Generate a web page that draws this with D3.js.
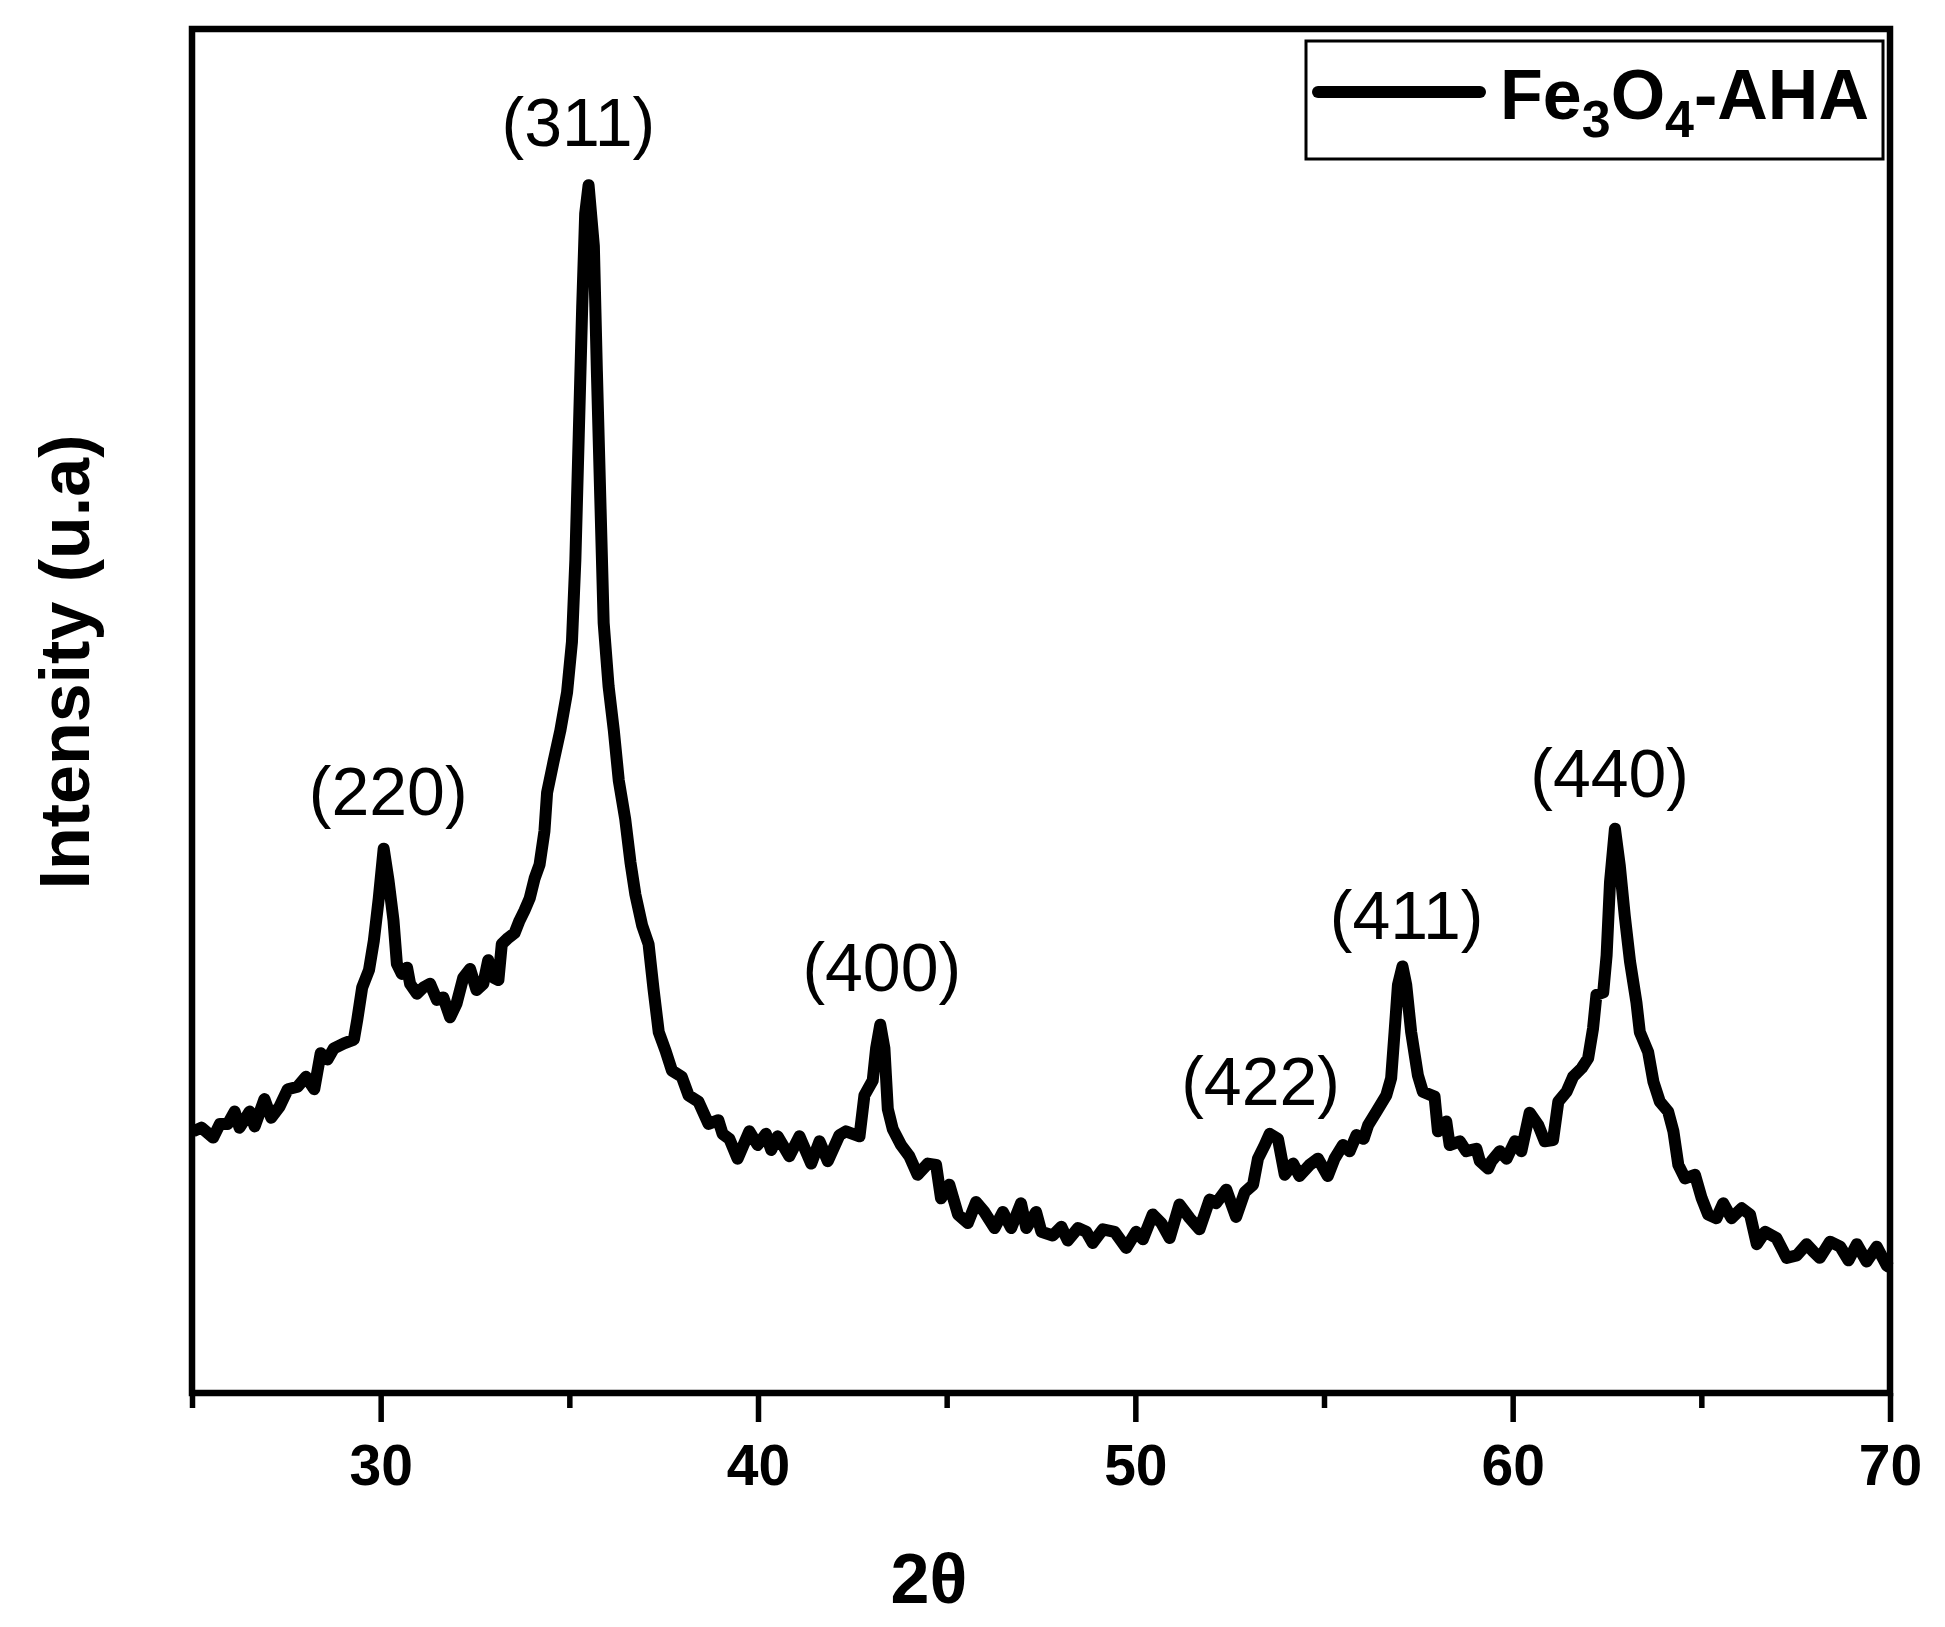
<!DOCTYPE html>
<html>
<head>
<meta charset="utf-8">
<script src="https://cdn.jsdelivr.net/npm/d3@7"></script>
<style>
  body { margin: 0; background: #fff; }
  svg { display: block; }
  text { font-family: "Liberation Sans", Arial, Helvetica, sans-serif; fill: #000; }
</style>
</head>
<body>
<div id="chart"></div>
<script>

// XRD pattern (2θ in degrees, intensity in arbitrary units)
var twoTheta = [
  25.03, 25.25, 25.56, 25.74, 25.95, 26.13, 26.26, 26.53, 26.66, 26.92,
  27.10, 27.32, 27.54, 27.80, 28.02, 28.24, 28.41, 28.59, 28.76, 29.03,
  29.29, 29.38, 29.51, 29.69, 29.82, 29.95, 30.08, 30.21, 30.34, 30.43,
  30.56, 30.70, 30.78, 30.96, 31.13, 31.31, 31.49, 31.66, 31.84, 32.01,
  32.19, 32.37, 32.54, 32.72, 32.85, 32.99, 33.12, 33.21, 33.38, 33.55,
  33.68, 33.81, 33.95, 34.08, 34.21, 34.34, 34.41, 34.58, 34.76, 34.94,
  35.07, 35.16, 35.25, 35.34, 35.42, 35.51, 35.65, 35.73, 35.82, 35.91,
  36.04, 36.18, 36.31, 36.48, 36.62, 36.75, 36.93, 37.10, 37.23, 37.37,
  37.55, 37.72, 37.98, 38.16, 38.42, 38.69, 38.95, 39.06, 39.24, 39.46,
  39.77, 39.99, 40.21, 40.35, 40.52, 40.83, 41.10, 41.41, 41.63, 41.85,
  42.16, 42.33, 42.69, 42.82, 43.04, 43.13, 43.24, 43.35, 43.44, 43.57,
  43.79, 44.01, 44.23, 44.50, 44.72, 44.85, 45.07, 45.30, 45.56, 45.78,
  46.00, 46.27, 46.49, 46.71, 46.97, 47.11, 47.37, 47.51, 47.81, 48.04,
  48.21, 48.48, 48.70, 48.87, 49.14, 49.45, 49.76, 50.02, 50.20, 50.46,
  50.69, 50.91, 51.17, 51.44, 51.70, 51.97, 52.14, 52.41, 52.67, 52.90,
  53.12, 53.25, 53.43, 53.56, 53.78, 53.96, 54.18, 54.35, 54.62, 54.84,
  55.10, 55.28, 55.50, 55.68, 55.86, 56.05, 56.17, 56.39, 56.65, 56.78,
  56.87, 56.96, 57.08, 57.18, 57.31, 57.49, 57.62, 57.93, 58.02, 58.24,
  58.33, 58.60, 58.77, 59.04, 59.13, 59.35, 59.44, 59.66, 59.84, 60.06,
  60.23, 60.45, 60.68, 60.85, 61.07, 61.21, 61.43, 61.60, 61.83, 62.00,
  62.13, 62.22, 62.40, 62.49, 62.58, 62.71, 62.84, 62.97, 63.11, 63.28,
  63.37, 63.59, 63.73, 63.90, 64.12, 64.26, 64.39, 64.57, 64.83, 65.01,
  65.18, 65.40, 65.58, 65.80, 66.07, 66.29, 66.47, 66.69, 66.99, 67.26,
  67.53, 67.79, 67.97, 68.14, 68.41, 68.68, 68.90, 69.12, 69.38, 69.65,
  69.91, 70.00
];

var intensity = [
  211, 214, 206, 217, 217, 227, 214, 227, 215, 237,
  222, 231, 245, 247, 255, 245, 274, 269, 278, 282,
  285, 301, 327, 341, 365, 399, 439, 413, 381, 346,
  338, 343, 330, 322, 327, 330, 317, 319, 303, 314,
  335, 342, 325, 330, 349, 335, 333, 362, 367, 371,
  381, 389, 399, 415, 426, 453, 484, 509, 534, 565,
  606, 672, 773, 875, 951, 974, 925, 824, 722, 621,
  570, 534, 494, 463, 428, 402, 377, 362, 326, 291,
  276, 260, 255, 240, 235, 217, 220, 209, 205, 189,
  211, 200, 209, 196, 207, 191, 207, 185, 203, 187,
  208, 211, 207, 240, 252, 278, 297, 278, 229, 213,
  200, 191, 176, 185, 184, 157, 168, 144, 137, 154,
  146, 133, 146, 133, 153, 133, 146, 130, 127, 134,
  123, 133, 130, 121, 132, 130, 117, 130, 124, 144,
  137, 125, 152, 141, 132, 156, 153, 164, 142, 162,
  168, 189, 200, 209, 205, 176, 185, 175, 184, 189,
  175, 189, 200, 195, 208, 205, 216, 227, 240, 254,
  291, 329, 344, 329, 291, 256, 243, 239, 211, 219,
  200, 203, 195, 197, 187, 181, 187, 195, 189, 203,
  195, 226, 216, 203, 204, 235, 243, 255, 262, 270,
  294, 321, 323, 353, 412, 455, 425, 385, 348, 315,
  291, 275, 251, 235, 227, 211, 184, 173, 176, 157,
  144, 141, 153, 141, 149, 144, 120, 130, 125, 109,
  111, 120, 114, 109, 122, 118, 107, 120, 106, 118,
  103, 101
];

// Miller index annotations and where their text sits (2θ, intensity)
var peakLabels = ['(220)', '(311)', '(400)', '(422)', '(411)', '(440)'];
var peakLabelTheta = [30.20, 35.24, 43.28, 53.32, 57.19, 62.57];
var peakLabelLevel = [486, 1025, 344, 252, 386, 500];

var majorTicks = [30, 40, 50, 60, 70];
var minorTicks = [25, 35, 45, 55, 65];

var seriesName = 'Fe3O4-AHA';

var chartWidth = 1945;
var chartHeight = 1627;
var plotLeft = 192, plotRight = 1890, plotTop = 29, plotBottom = 1393;

var svg = d3.select('#chart')
  .append('svg')
  .attr('width', chartWidth)
  .attr('height', chartHeight);

svg.append('rect')
  .attr('width', chartWidth)
  .attr('height', chartHeight)
  .attr('fill', '#fff');

var xScale = d3.scaleLinear()
  .domain([25, 70])
  .range([plotLeft, plotRight]);

var yScale = d3.scaleLinear()
  .domain([0, 1100])
  .range([plotBottom, plotTop]);

var points = twoTheta.map(function(t, i) {
  return [t, intensity[i]];
});

// major ticks with labels
var xAxis = svg.append('g')
  .attr('class', 'axisX')
  .attr('transform', 'translate(0,' + plotBottom + ')')
  .call(d3.axisBottom(xScale).tickValues(majorTicks).tickSize(29).tickFormat(d3.format('d')));

xAxis.select('.domain').remove();
xAxis.selectAll('.tick line').attr('stroke', '#000').attr('stroke-width', 5.5);
xAxis.selectAll('.tick text')
  .attr('y', 92)
  .attr('dy', null)
  .style('font-size', '57px')
  .style('font-weight', 'bold')
  .style('font-family', '"Liberation Sans", Arial, sans-serif')
  .attr('fill', '#000');

// minor ticks
var xMinor = svg.append('g')
  .attr('transform', 'translate(0,' + plotBottom + ')')
  .call(d3.axisBottom(xScale).tickValues(minorTicks).tickSize(15).tickFormat(''));

xMinor.select('.domain').remove();
xMinor.selectAll('.tick line').attr('stroke', '#000').attr('stroke-width', 5.5);

// data line
var line = d3.line()
  .x(function(d) { return xScale(d[0]); })
  .y(function(d) { return yScale(d[1]); });

svg.append('path')
  .datum(points)
  .attr('d', line)
  .attr('fill', 'none')
  .attr('stroke', '#000')
  .attr('stroke-width', 12)
  .attr('stroke-linejoin', 'round')
  .attr('stroke-linecap', 'butt');

// frame
svg.append('rect')
  .attr('x', plotLeft)
  .attr('y', plotTop)
  .attr('width', plotRight - plotLeft)
  .attr('height', plotBottom - plotTop)
  .attr('fill', 'none')
  .attr('stroke', '#000')
  .attr('stroke-width', 6.5);

// peak annotations
svg.selectAll('.peak')
  .data(peakLabels)
  .enter()
  .append('text')
  .attr('class', 'peak')
  .attr('x', function(d, i) { return xScale(peakLabelTheta[i]); })
  .attr('y', function(d, i) { return yScale(peakLabelLevel[i]); })
  .attr('dy', '0.36em')
  .attr('text-anchor', 'middle')
  .style('font-size', '68px')
  .text(function(d) { return d; });

// axis titles
svg.append('text')
  .attr('x', 929)
  .attr('y', 1603)
  .attr('text-anchor', 'middle')
  .style('font-size', '70px')
  .style('font-weight', 'bold')
  .text('2θ');

svg.append('text')
  .attr('transform', 'translate(89,662) rotate(-90)')
  .attr('text-anchor', 'middle')
  .style('font-size', '70px')
  .style('font-weight', 'bold')
  .text('Intensity (u.a)');

// legend
var legend = svg.append('g').attr('class', 'legend');

legend.append('rect')
  .attr('x', 1306)
  .attr('y', 41)
  .attr('width', 577)
  .attr('height', 118)
  .attr('fill', '#fff')
  .attr('stroke', '#000')
  .attr('stroke-width', 3);

legend.append('line')
  .attr('x1', 1318)
  .attr('x2', 1480)
  .attr('y1', 92)
  .attr('y2', 92)
  .attr('stroke', '#000')
  .attr('stroke-width', 12)
  .attr('stroke-linecap', 'round');

var legendText = legend.append('text')
  .attr('x', 1500)
  .attr('y', 119)
  .style('font-size', '70px')
  .style('font-weight', 'bold');

// Fe3O4 with subscripts
var parts = seriesName.match(/[A-Za-z\-]+|\d/g);
parts.forEach(function(p, i) {
  var isDigit = /\d/.test(p);
  var prevDigit = i > 0 && /\d/.test(parts[i - 1]);
  var span = legendText.append('tspan').text(p);
  if (isDigit) {
    span.style('font-size', '52px').attr('dy', 18);
  } else if (prevDigit) {
    span.attr('dy', -18);
  }
});

</script>
</body>
</html>
